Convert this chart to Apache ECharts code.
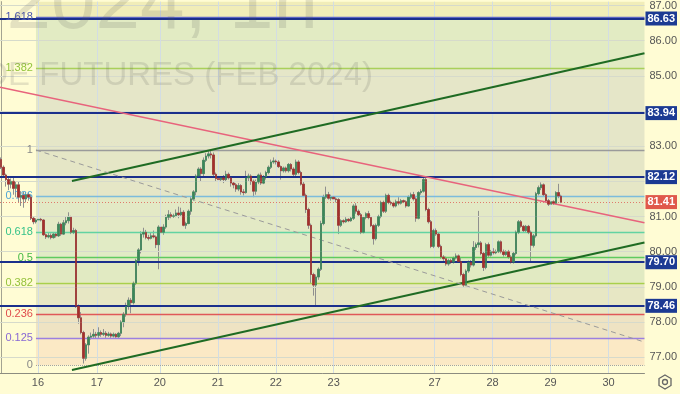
<!DOCTYPE html>
<html><head><meta charset="utf-8">
<script src="https://cdn.jsdelivr.net/npm/echarts@6/dist/echarts.min.js"></script>
<style>html,body{margin:0;padding:0;background:#fffcd4}#c{width:680px;height:394px}</style>
</head><body><div id="c"></div>
<script>
// hourly candles: [open, close, low, high]
const candles = [
[82.62,82.40,82.35,82.68],[82.40,82.18,82.12,82.45],[82.18,82.05,81.85,82.22],[82.05,81.92,81.75,82.10],
[81.92,82.00,81.80,82.08],[82.00,81.80,81.62,82.12],[81.80,81.90,81.55,81.98],[81.90,81.55,81.40,82.00],
[81.55,81.60,81.30,81.72],[81.60,81.50,81.25,81.70],[81.50,81.62,81.40,81.70],[81.62,81.55,81.45,81.68],
[81.55,80.95,80.90,81.62],[80.95,80.85,80.78,81.00],[80.85,80.90,80.80,80.95],[80.90,80.92,80.85,80.97],
[80.92,80.90,80.86,80.96],[80.90,80.48,80.45,80.92],[80.48,80.42,80.36,80.52],[80.42,80.46,80.38,80.55],
[80.46,80.40,80.35,80.52],[80.40,80.50,80.37,80.56],[80.50,80.45,80.40,80.55],[80.45,80.78,80.42,80.85],
[80.78,80.50,80.45,80.82],[80.50,80.82,80.48,80.90],[80.82,80.88,80.75,81.00],[80.88,80.98,80.80,81.12],
[80.98,80.55,80.50,81.02],[80.55,80.60,80.50,80.68],[80.60,78.45,78.40,80.65],[78.45,78.12,77.95,78.50],
[78.12,77.70,77.65,78.28],[77.70,76.97,76.82,77.75],[76.97,77.35,76.90,77.40],[77.35,77.57,77.10,77.62],
[77.57,77.60,77.50,77.70],[77.60,77.65,77.55,77.80],[77.65,77.62,77.52,77.72],[77.62,77.70,77.55,77.85],
[77.70,77.65,77.58,77.76],[77.65,77.68,77.60,77.80],[77.68,77.62,77.55,77.74],[77.62,77.66,77.58,77.72],
[77.66,77.60,77.55,77.70],[77.60,77.65,77.56,77.70],[77.65,77.58,77.55,77.68],[77.58,77.68,77.55,77.72],
[77.68,78.00,77.60,78.05],[78.00,78.22,77.85,78.28],[78.22,78.45,78.15,78.55],[78.45,78.62,78.35,78.70],
[78.62,78.55,78.25,78.68],[78.55,79.10,78.50,79.15],[79.10,79.75,79.05,79.80],[79.75,80.05,79.60,80.10],
[80.05,80.50,79.95,80.58],[80.50,80.55,80.40,80.68],[80.55,80.40,80.35,80.62],[80.40,80.38,80.32,80.48],
[80.38,80.45,80.35,80.55],[80.45,80.42,80.38,80.60],[80.42,80.20,80.10,80.46],[80.20,80.70,79.50,80.75],
[80.70,80.55,80.45,80.78],[80.55,80.70,80.48,80.78],[80.70,80.98,80.65,81.05],[80.98,81.05,80.90,81.18],
[81.05,81.00,80.95,81.12],[81.00,81.02,80.96,81.08],[81.02,81.10,80.98,81.20],[81.10,81.05,80.95,81.28],
[81.05,81.12,81.00,81.25],[81.12,80.75,80.72,81.18],[80.75,80.80,80.65,80.85],[80.80,81.15,80.78,81.20],
[81.15,81.50,81.05,81.55],[81.50,81.70,81.45,81.75],[81.70,82.15,81.60,82.20],[82.15,82.35,82.10,82.40],
[82.35,82.22,82.00,82.40],[82.22,82.60,82.15,82.68],[82.60,82.72,82.55,82.80],[82.72,82.78,82.65,82.86],
[82.78,82.75,82.65,82.89],[82.75,82.20,82.15,82.82],[82.20,82.08,82.00,82.25],[82.08,82.05,81.98,82.15],
[82.05,82.10,81.98,82.15],[82.10,82.05,81.95,82.18],[82.05,82.20,82.00,82.30],[82.20,82.10,82.05,82.25],
[82.10,81.95,81.85,82.15],[81.95,81.90,81.80,82.00],[81.90,81.78,81.70,81.95],[81.78,81.88,81.72,81.95],
[81.88,81.70,81.62,81.92],[81.70,81.68,81.60,81.78],[81.68,82.10,81.65,82.30],[82.10,82.15,82.00,82.22],
[82.15,82.00,81.90,82.20],[82.00,81.72,81.55,82.05],[81.72,81.98,81.62,82.05],[81.98,82.18,81.92,82.22],
[82.18,81.95,81.90,82.25],[81.95,82.12,81.92,82.18],[82.12,82.25,82.05,82.30],[82.25,82.40,82.20,82.45],
[82.40,82.55,82.35,82.62],[82.55,82.58,82.50,82.68],[82.58,82.55,82.48,82.62],[82.55,82.42,82.38,82.60],
[82.42,82.30,82.05,82.45],[82.30,82.38,82.25,82.42],[82.38,82.30,82.25,82.42],[82.30,82.48,82.25,82.52],
[82.48,82.35,82.28,82.52],[82.35,82.20,82.15,82.40],[82.20,82.55,82.15,82.62],[82.55,82.25,82.20,82.60],
[82.25,81.92,81.88,82.30],[81.92,81.60,81.55,81.98],[81.60,81.20,81.10,81.65],[81.20,80.75,80.65,81.25],
[80.75,79.35,79.10,80.80],[79.35,79.05,78.75,79.40],[79.05,79.28,78.47,79.35],[79.28,79.50,79.20,79.55],
[79.50,80.80,79.45,80.88],[80.80,81.55,80.75,81.62],[81.55,81.62,81.50,81.85],[81.62,81.52,81.48,81.70],
[81.52,81.55,81.45,81.62],[81.55,81.50,81.42,81.58],[81.50,81.48,81.40,81.55],[81.48,80.75,80.50,81.52],
[80.75,80.88,80.70,80.92],[80.88,80.85,80.80,80.92],[80.85,80.92,80.82,80.98],[80.92,80.88,80.84,80.95],
[80.88,80.95,80.85,81.00],[80.95,81.30,80.90,81.35],[81.30,81.15,81.08,81.38],[81.15,81.05,81.00,81.20],
[81.05,80.55,80.50,81.10],[80.55,80.97,80.52,81.02],[80.97,81.08,80.92,81.12],[81.08,80.97,80.92,81.16],
[80.97,80.74,80.70,81.02],[80.74,80.37,80.20,80.78],[80.37,80.75,80.32,80.80],[80.75,81.00,80.70,81.05],
[81.00,81.40,80.95,81.45],[81.40,81.15,81.10,81.45],[81.15,81.60,81.10,81.65],[81.60,81.40,81.35,81.65],
[81.40,81.38,81.32,81.45],[81.38,81.30,81.25,81.42],[81.30,81.42,81.26,81.48],[81.42,81.38,81.32,81.55],
[81.38,81.45,81.34,81.50],[81.45,81.42,81.38,81.48],[81.42,81.30,81.25,81.46],[81.30,81.55,81.28,81.60],
[81.55,81.62,81.50,81.68],[81.62,81.50,81.45,81.70],[81.50,80.95,80.85,81.55],[80.95,81.68,80.92,81.72],
[81.68,81.72,81.62,81.78],[81.72,82.05,81.68,82.10],[82.05,81.20,81.15,82.13],[81.20,80.85,80.80,81.25],
[80.85,80.15,80.10,80.90],[80.15,80.60,80.10,80.65],[80.60,80.50,80.45,80.66],[80.50,80.15,80.10,80.55],
[80.15,79.85,79.80,80.20],[79.85,79.80,79.74,79.90],[79.80,79.65,79.60,79.86],[79.65,79.75,79.60,79.80],
[79.75,79.70,79.65,79.80],[79.70,79.82,79.66,79.86],[79.82,79.88,79.78,79.95],[79.88,79.72,79.68,79.92],
[79.72,79.35,79.30,79.85],[79.35,79.05,79.00,79.40],[79.05,79.45,79.02,79.50],[79.45,79.70,79.40,79.75],
[79.70,79.62,79.55,79.76],[79.62,80.12,79.58,80.30],[80.12,80.20,80.05,80.26],[80.20,80.25,80.12,81.16],
[80.25,79.95,79.90,80.30],[79.95,79.55,79.45,80.00],[79.55,80.20,79.50,80.25],[80.20,79.90,79.85,80.26],
[79.90,80.00,79.86,80.05],[80.00,79.97,79.92,80.10],[79.97,80.00,79.93,80.06],[80.00,80.28,79.96,80.32],
[80.28,80.00,79.95,80.32],[80.00,79.92,79.86,80.06],[79.92,80.00,79.88,80.04],[80.00,79.85,79.80,80.05],
[79.85,79.70,79.66,79.90],[79.70,79.95,79.66,80.00],[79.95,80.55,79.90,80.60],[80.55,80.85,80.50,80.90],
[80.85,80.72,80.68,80.90],[80.72,80.60,80.55,80.76],[80.60,80.72,80.56,80.76],[80.72,80.55,80.50,80.76],
[80.55,80.18,79.70,80.60],[80.18,80.45,80.12,80.50],[80.45,81.65,80.40,81.70],[81.65,81.82,81.60,81.88],
[81.82,81.90,81.75,81.97],[81.90,81.62,81.58,81.94],[81.62,81.45,81.40,81.66],[81.45,81.35,81.30,81.50],
[81.35,81.42,81.28,81.46],[81.42,81.38,81.33,81.46],[81.38,81.68,81.35,81.72],[81.68,81.58,81.52,81.93],
[81.58,81.41,81.38,81.62]
];
const dayLabels = ['16','17','20','21','22','23','27','28','29','30'];
const dayPos = [14.7,38.3,63.5,86.7,109.9,133.1,173.5,196.7,219.9,243.1];
const priceTicks = [77,78,79,80,81,83,85,86,87];
const gridPrices = [77,78,79,80,81,82,83,84,85,86,87];
const levelPrices = [86.63,83.94,82.12,79.70,78.46];
const lastPrice = 81.41;
const fibLow = 76.78, fibHigh = 82.89, fibStart = 13.9;
const fibRatios = [1.618,1.382,1,0.786,0.618,0.5,0.382,0.236,0.125,0];
const fibNames = ['1.618','1.382','1','0.786','0.618','0.5','0.382','0.236','0.125','0'];
const fibLineColors = ['#5b63c4','#a9d05a','#9a9a9a','#7cbcdc','#62d3a2','#5fca5f','#a8d04c','#e05858','#9b7fe0','#a0a0a0'];
const fibTextColors = ['#4a56b0','#93c43c','#888888','#4da5d6','#36c28a','#45b845','#94c13a','#e04c4c','#8868d4','#888888'];
const bandColors = ['#e2ebc3','#e5e6c8','#e5e6c6','#e3e9c5','#e1ebc5','#e1eac2','#e7e7c4','#eee3c3','#fbe9c5'];
const topBandColor = '#f1edb8';
const xMin = -0.5, xMax = 257.5, yMin = 76.55, yMax = 87.11;
const redLine = [[-0.5,84.675],[257.5,80.825]];
const redLine2 = [[-0.5,76.83],[18.7,76.544]];
const greenUpper = [[28.3,82.01],[257.5,85.64]];
const greenLower = [[28.3,76.635],[257.5,80.26]];
const grayDash = [[13.9,82.89],[257.5,77.43]];

const fibPrice = r => fibLow + (fibHigh - fibLow) * r;
const chart = echarts.init(document.getElementById('c'), null, {renderer:'canvas'});
const FONT = 'Liberation Sans, Arial, sans-serif';

const bands = [[{coord:[fibStart, fibPrice(1.618)], itemStyle:{color:topBandColor}}, {coord:[xMax, yMax]}]];
for (let k = 0; k < fibRatios.length - 1; k++) {
  bands.push([{coord:[fibStart, fibPrice(fibRatios[k])], itemStyle:{color:bandColors[k]}}, {coord:[xMax, fibPrice(fibRatios[k+1])]}]);
}
const gridLines = gridPrices.map(p => ({yAxis:p, lineStyle:{color:'#d6dacb', width:1, type:'solid'}}))
  .concat(dayPos.map(d => ({xAxis:d, lineStyle:{color:'#d3dde3', width:1, type:'solid'}})));

const fibLines = fibRatios.map((r,k) => [
  {coord:[fibStart, fibPrice(r)], lineStyle:{color:fibLineColors[k], width: r===0?1:1.3, type: r===0?'dotted':'solid'},
   label:{show:true, position:'start', formatter:fibNames[k], color:fibTextColors[k], fontSize:11, fontFamily:FONT, distance:3}},
  {coord:[xMax, fibPrice(r)]}
]);
const levelLines = levelPrices.map(p => ({yAxis:p, lineStyle:{color:'#1a2f8c', width:2, type:'solid'},
  label:{show:true, position:'end', distance:1, formatter:p.toFixed(2), color:'#fff', backgroundColor:'#1c3a93',
    padding:[2,2,1,2], fontSize:11, fontWeight:'bold', fontFamily:FONT}}));
levelLines.push({yAxis:lastPrice, lineStyle:{color:'#e07a6c', width:1, type:[1,2]},
  label:{show:true, position:'end', distance:1, formatter:lastPrice.toFixed(2), color:'#fff', backgroundColor:'#e0594b',
    padding:[2,2,1,2], fontSize:11, fontWeight:'bold', fontFamily:FONT}});

function seg(pts, style){ return [{coord:pts[0], lineStyle:style}, {coord:pts[1]}]; }
const trend = [
  seg(redLine, {color:'#e8637c', width:1.5, type:'solid'}),
  seg(redLine2, {color:'#e8637c', width:1.5, type:'solid'}),
  seg(greenUpper, {color:'#1f6b23', width:2, type:'solid'}),
  seg(greenLower, {color:'#1f6b23', width:2, type:'solid'}),
  seg(grayDash, {color:'#9a9a9a', width:1, type:[5,4]})
];

const wickData = candles.map((c,i) => [i, c[0], c[1], c[2], c[3]]);
const bodyData = candles.map((c,i) => [i, c[0], c[1], Math.min(c[0],c[1]), Math.max(c[0],c[1])]);

const option = {
  backgroundColor:'#fffcd4',
  animation:false,
  grid:{left:0, right:35, top:0, bottom:21, containLabel:false},
  xAxis:{type:'value', min:xMin, max:xMax,
    axisLine:{show:true, lineStyle:{color:'#8c8c80', width:1}}, axisTick:{show:false}, splitLine:{show:false},
    axisLabel:{customValues:dayPos, color:'#555', fontSize:11, fontFamily:FONT, margin:4,
      formatter:v => { const k = dayPos.findIndex(d => Math.abs(d - v) < 0.01); return k >= 0 ? dayLabels[k] : ''; }}},
  yAxis:{type:'value', position:'right', min:yMin, max:yMax, scale:true,
    axisLine:{show:true, lineStyle:{color:'#a3a392', width:1}}, axisTick:{show:false}, splitLine:{show:false},
    axisLabel:{customValues:priceTicks, color:'#555', fontSize:11, fontFamily:FONT, margin:5, formatter:v => v.toFixed(2)}},
  series:[
    {type:'line', data:[], z:1, silent:true, markArea:{silent:true, data:bands}},
    {type:'line', data:[], z:2, silent:true, markLine:{silent:true, symbol:['none','none'], label:{show:false}, data:gridLines}},
    {type:'line', data:[], z:3, silent:true, markLine:{silent:true, symbol:['none','none'], data:fibLines.concat(levelLines)}},
    {type:'candlestick', z:4, silent:true, data:wickData, encode:{x:0, y:[1,2,3,4]}, barWidth:2,
      itemStyle:{color:'#8f8f8f', color0:'#8f8f8f', borderColor:'#8f8f8f', borderColor0:'#8f8f8f', borderWidth:1}},
    {type:'candlestick', z:5, silent:true, data:bodyData, encode:{x:0, y:[1,2,3,4]}, barWidth:2,
      itemStyle:{color:'#3a8858', color0:'#a52f2a', borderColor:'#3a8858', borderColor0:'#a52f2a', borderWidth:0.6}},
    {type:'line', data:[], z:6, silent:true, markLine:{silent:true, symbol:['none','none'], label:{show:false}, data:trend}}
  ],
  graphic:[
    {type:'text', z:100, silent:true, x:318, y:6, style:{text:'BRNG2024, 1h', align:'right', verticalAlign:'middle',
      font:'80px Liberation Sans, Arial, sans-serif', fill:'rgba(90,90,90,0.16)'}},
    {type:'text', z:100, silent:true, x:373, y:76, style:{text:'BRENT CRUDE FUTURES (FEB 2024)', align:'right', verticalAlign:'middle',
      font:'33px Liberation Sans, Arial, sans-serif', fill:'rgba(90,90,90,0.16)'}},
    {type:'polygon', z:100, silent:true, shape:{points:[[665,375],[671,378.5],[671,385.5],[665,389],[659,385.5],[659,378.5]]},
      style:{fill:'none', stroke:'#666', lineWidth:1.3}},
    {type:'circle', z:100, silent:true, shape:{cx:665, cy:382, r:2.5}, style:{fill:'none', stroke:'#666', lineWidth:1.3}}
  ]
};
chart.setOption(option);
</script></body></html>
